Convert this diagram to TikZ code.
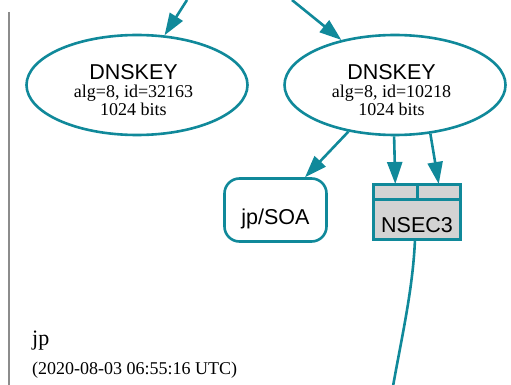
\documentclass[tikz,border=0pt]{standalone}
\usepackage{fontspec}
\setmainfont{Liberation Serif}
\setsansfont{Liberation Sans}
\usetikzlibrary{arrows.meta, shapes.geometric}
\definecolor{dnsteal}{RGB}{16,137,154}
\definecolor{nsecgray}{RGB}{211,211,211}

\begin{document}
\begin{tikzpicture}
	[%
	x=1pt, y=-1pt,
	>={Triangle[length=22pt, width=15pt]},
	key/.style    ={ellipse,		draw=dnsteal,	line width=2.6pt,	inner sep=0pt,	minimum width=221pt,	minimum height=100pt},%
	keytext/.style={align=center,	inner sep=0pt,	font=\fontsize{18}{18}\selectfont},%
	rrset/.style  ={rectangle,	draw=dnsteal,	line width=2.6pt,	rounded corners=15pt,	inner sep=0pt,	minimum width=102pt,	minimum height=63pt,	text height=29.4pt,	text depth=0pt,	font=\sffamily\fontsize{21.5}{21.5}\selectfont},%
	nsec/.style   ={rectangle,	draw=dnsteal,	fill=nsecgray,	line width=3pt,	inner sep=0pt,	outer sep=0pt,	minimum width=87pt,	minimum height=40pt,	text height=26.4pt,	text depth=0pt,	font=\sffamily\fontsize{21.5}{21.5}\selectfont},%
	cell/.style   ={rectangle,	draw=dnsteal,	fill=nsecgray,	line width=3pt,	inner sep=0pt,	outer sep=0pt,	minimum width=43.5pt,	minimum height=15pt},%
	conn/.style   ={draw=dnsteal,	line width=2.6pt,	->},%
	]

	\newcommand{\ykey}{85}
	\newcommand{\ylbl}{90}

	\useasboundingbox (0,0) rectangle (511,385);

	% page rule
	\draw [black!45, line width=2pt] (9,12) -- (9,386);

	% nodes
	\foreach \i/\x/\id in {0/137/32163, 1/395/10218} {
		\node (dnskey\i) at (\x,\ykey) [key] {};
		\node (dnskey\i lbl) at (\x-3.5,\ylbl) [keytext] {{\sffamily\fontsize{21.5}{18}\selectfont DNSKEY}\\alg=8, id=\id\\1024 bits};
	}

	\node (soa)	at (275.5,210) [rrset] {jp/SOA};
	\node (nsec3)	at (417,219) [nsec] {NSEC3};
	\node (nsec3a)	at (nsec3.north west) [cell, anchor=south west] {};
	\node (nsec3b)	at (nsec3.north east) [cell, anchor=south east] {};

	\node (zone)	at (32,345) [anchor=base west, inner sep=0pt, font=\fontsize{22}{22}\selectfont] {jp};
	\node (stamp)	at (32,374) [anchor=base west, inner sep=0pt, font=\fontsize{18}{18}\selectfont] {(2020-08-03 06:55:16 UTC)};

	\coordinate (up0)	at (187,0);
	\coordinate (up1)	at (292,0);
	\coordinate (down)	at (392,392);

	% interconnections
	\draw [conn] (up0) -- (dnskey0.61);
	\draw [conn] (up1) -- (dnskey1.140);
	\draw [conn] (dnskey1.225) -- (soa.48);
	\draw [conn] (dnskey1.269) -- (nsec3a.north);
	\draw [conn] (dnskey1.306) -- (nsec3b.north);
	\draw [draw=dnsteal, line width=2.6pt] ([xshift=-2pt]nsec3.south) .. controls (413,290) and (401,340) .. (down);

\end{tikzpicture}
\end{document}
